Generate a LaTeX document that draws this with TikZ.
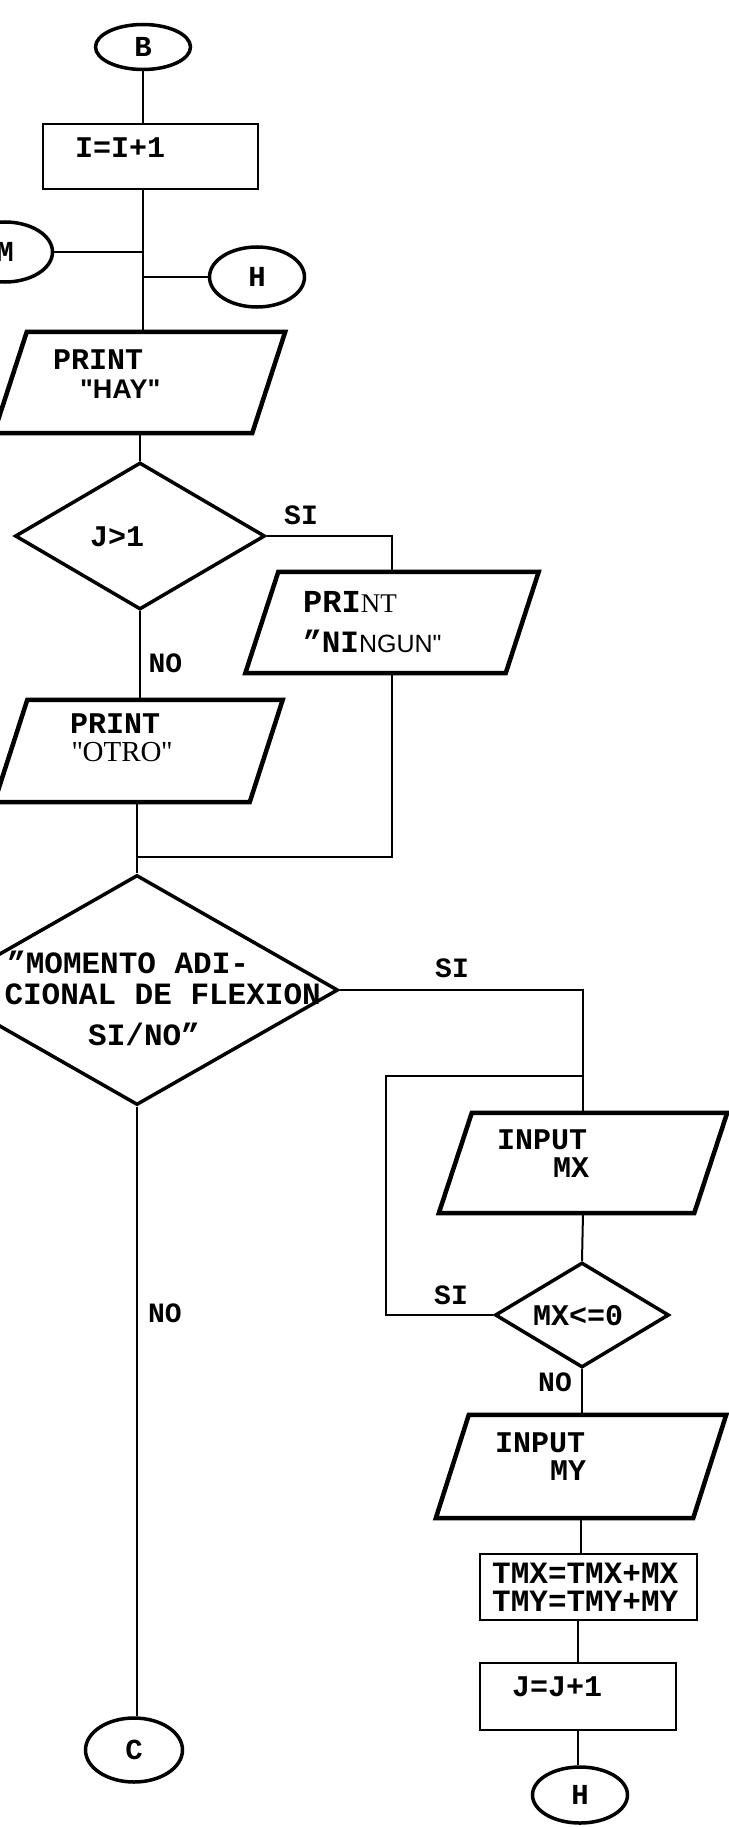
\documentclass[tikz,border=0pt]{standalone}
\usepackage{fontspec}
\setmonofont{Liberation Mono}
\newfontfamily\sansf{Liberation Sans}
\newfontfamily\serff{Liberation Serif}
\usetikzlibrary{shapes.geometric}
\newcommand\myfs[1]{\fontsize{#1}{#1}\selectfont}
% name, cx, cy, side length, height
\newcommand\parabox[5]{%
  \node[inner sep=0, minimum width=#4pt, minimum height=#5pt] (#1) at (#2,#3) {};
  \draw[paral] ([xshift=-16.5pt]#1.south west) -- ([xshift=-16.5pt]#1.south east)
     -- ([xshift=16.5pt]#1.north east) -- ([xshift=16.5pt]#1.north west) -- cycle;}
\begin{document}
\begin{tikzpicture}[x=1pt,y=-1pt,
  conn/.style={line width=2pt},
  oval/.style={draw, ellipse, line width=3.5pt, inner sep=0, font=\ttfamily\bfseries\myfs{29}},
  box/.style={draw, rectangle, line width=2.5pt, inner sep=0},
  dia/.style={draw, diamond, line width=3.5pt, inner sep=0},
  paral/.style={draw, line width=4.5pt, line join=miter},
  tx/.style={inner sep=0, anchor=west, font=\ttfamily\bfseries\myfs{30}},
  big/.style={inner sep=0, anchor=west, font=\ttfamily\bfseries\myfs{31}},
  lb/.style={inner sep=0, font=\ttfamily\bfseries\myfs{28}},
]
\fill[white] (0,0) rectangle (728,1827);
\useasboundingbox (0,0) rectangle (728,1827);

% ---- top part
\node[oval, minimum width=95pt, minimum height=45pt] (B) at (143,47) {B};
\node[box, minimum width=215pt, minimum height=65pt] (r1) at (150.5,156.5) {};
\node[tx] (r1t) at (75,148) {I=I+1};
\node[oval, minimum width=95pt, minimum height=60pt] (M) at (5,252) {M};
\node[oval, minimum width=95pt, minimum height=60pt] (H1) at (257,277) {H};
\parabox{hay}{139.5}{382.5}{258}{101}
\node[tx] (hayt1) at (53,360) {PRINT};
\node[inner sep=0, anchor=west, font=\sansf\bfseries\myfs{27}] (hayt2) at (80,389) {"HAY"};

% ---- J>1 decision
\node[dia, minimum width=250pt, minimum height=147pt] (d1) at (140,536) {};
\node[tx] (d1t) at (90,537) {J>1};
\node[lb] (si1) at (301,515) {SI};
\parabox{ning}{392}{622.5}{260}{101}
\node[inner sep=0, anchor=west] (ningt1) at (303,602) {{\ttfamily\bfseries\myfs{32}PRI}{\serff\myfs{27}NT}};
\node[inner sep=0, anchor=west] (ningt2) at (303,641) {{\ttfamily\bfseries\myfs{31}”NI}{\sansf\myfs{25}NGUN"}};
\node[lb] (no1) at (165.5,663) {NO};
\parabox{otro}{138.5}{751}{255}{102}
\node[tx] (otrot1) at (70,724) {PRINT};
\node[inner sep=0, anchor=west, font=\serff\myfs{29}] (otrot2) at (72,752) {''OTRO''};
\coordinate (mrg) at (137,857);

% ---- big decision
\node[dia, minimum width=402pt, minimum height=230pt] (d2) at (137,990) {};
\node[big] (d2t1) at (7,962) {”MOMENTO ADI-};
\node[big, anchor=east] (d2t2) at (321,994) {CIONAL DE FLEXION};
\node[big] (d2t3) at (88,1034) {SI/NO”};
\node[lb] (si2) at (452,968) {SI};
\node[lb] (no2) at (165,1313) {NO};
\node[oval, minimum width=97pt, minimum height=64pt] (C) at (134,1750) {C};

% ---- right branch
\parabox{mx}{583}{1163}{255}{100}
\node[tx] (mxt1) at (497,1140) {INPUT};
\node[tx] (mxt2) at (553,1168) {MX};
\node[dia, minimum width=174pt, minimum height=105pt] (d3) at (582,1315) {};
\node[tx] (d3t) at (533,1316) {MX<=0};
\node[lb] (si3) at (451,1295) {SI};
\node[lb] (no3) at (555,1382) {NO};
\coordinate (lpc) at (386,1076);
\parabox{my}{581}{1466.5}{257}{103}
\node[tx] (myt1) at (495,1443) {INPUT};
\node[tx] (myt2) at (550,1471) {MY};
\node[box, minimum width=217pt, minimum height=66pt] (tmx) at (588.5,1587) {};
\node[tx, font=\ttfamily\bfseries\myfs{31}] (tmxt1) at (492,1573) {TMX=TMX+MX};
\node[tx, font=\ttfamily\bfseries\myfs{31}] (tmxt2) at (492,1601) {TMY=TMY+MY};
\node[box, minimum width=196pt, minimum height=67pt] (jb) at (578,1696.5) {};
\node[tx] (jbt) at (512,1687) {J=J+1};
\node[oval, minimum width=95pt, minimum height=56pt] (H2) at (580,1795) {H};

% ---- connectors
\draw[conn] (B) -- (B |- r1.north);
\draw[conn] (r1.south -| B) -- (hay.north -| B);
\draw[conn] (M) -- (M -| B);
\draw[conn] (H1) -- (H1 -| B);
\draw[conn] (hay.south -| d1) -- (d1.north);
\draw[conn] (d1.east) -| (ning.north -| ning);
\draw[conn] (d1.south) -- (otro.north -| d1);
\draw[conn] (otro.south -| mrg) -- (mrg);
\draw[conn] (ning.south -| ning) |- (mrg);
\draw[conn] (mrg) -- (d2.north);
\draw[conn] (d2.south) -- (C.north -| d2);
\draw[conn] (d2.east) -| (mx.north -| mx);
\draw[conn] (mx.south -| mx) -- (d3.north);
\draw[conn] (d3.west) -| (lpc) -- (lpc -| mx);
\draw[conn] (d3.south) -- (my.north -| d3);
\draw[conn] (my.south -| my) -- (tmx.north -| my);
\draw[conn] (tmx.south -| jb) -- (jb.north);
\draw[conn] (jb.south) -- (jb.south |- H2.north);
\end{tikzpicture}
\end{document}
